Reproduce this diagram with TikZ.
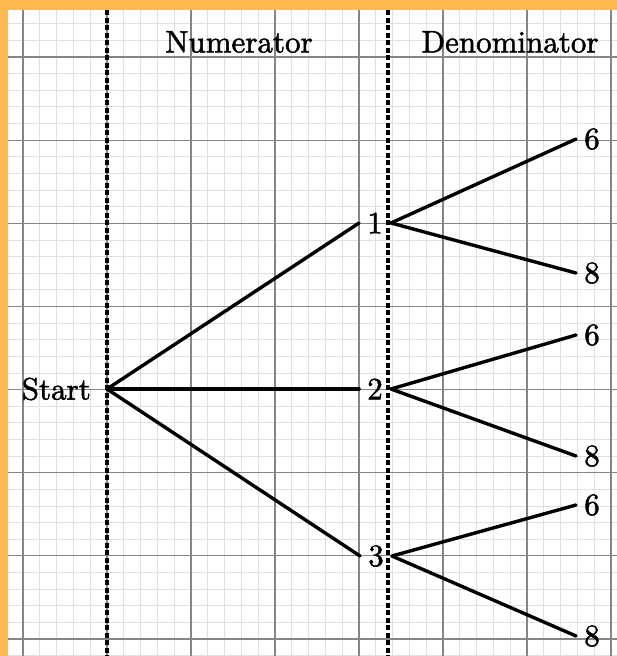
\documentclass[tikz,border=0pt]{standalone}
\usepackage{fontspec}
\newfontfamily\lblfont{lmroman10-regular.otf}[FakeBold=1.6]
\definecolor{frameorange}{RGB}{253,185,80}
\begin{document}
\begin{tikzpicture}[x=1pt,y=-1pt,
  lbl/.style={font=\lblfont\fontsize{31}{36}\selectfont, inner xsep=8pt, inner ysep=0pt},
  branch/.style={line width=3.4pt, line cap=round},
  divider/.style={line width=3.4pt, dash pattern=on 5pt off 2.5pt},
  minorgrid/.style={draw=black!12, line width=0.8pt},
  majorgrid/.style={draw=black!48, line width=1.2pt}]
\useasboundingbox (0,0) rectangle (617,656);
\fill[white] (0,0) rectangle (617,656);
% grid
\foreach \i in {-1,...,35} \draw[minorgrid] ({23+16.8*\i},0) -- ({23+16.8*\i},656);
\foreach \i in {-4,...,36} \draw[minorgrid] (0,{57+16.628*\i}) -- (617,{57+16.628*\i});
\foreach \i in {0,...,7} \draw[majorgrid] ({23+84*\i},0) -- ({23+84*\i},656);
\foreach \i in {0,...,7} \draw[majorgrid] (0,{57+83.14*\i}) -- (617,{57+83.14*\i});
% dividers
\draw[divider] (107,10) -- (107,656);
\draw[divider] (388,10) -- (388,656);
% frame
\fill[frameorange] (0,0) rectangle (617,10);
\fill[frameorange] (0,0) rectangle (8,656);
% headers
\node[lbl] (num) at (239,42) {Numerator};
\node[lbl] (den) at (510,42) {Denominator};
% nodes
\node[lbl, inner xsep=16pt, anchor=east] (start) at (107,389) {Start};
\node[lbl] (n1) at (375,223) {1};
\node[lbl] (n2) at (375,389) {2};
\node[lbl] (n3) at (376,556) {3};
\node[lbl] (a6) at (592,139) {6};
\node[lbl] (a8) at (592,273) {8};
\node[lbl] (b6) at (592,335) {6};
\node[lbl] (b8) at (592,456) {8};
\node[lbl] (c6) at (592,505) {6};
\node[lbl] (c8) at (592,636) {8};
% branches
\draw[branch] (start.east) -- (n1.west);
\draw[branch] (start.east) -- (n2.west);
\draw[branch] (start.east) -- (n3.west);
\draw[branch] (n1.east) -- (a6.west);
\draw[branch] (n1.east) -- (a8.west);
\draw[branch] (n2.east) -- (b6.west);
\draw[branch] (n2.east) -- (b8.west);
\draw[branch] (n3.east) -- (c6.west);
\draw[branch] (n3.east) -- (c8.west);
\end{tikzpicture}
\end{document}
